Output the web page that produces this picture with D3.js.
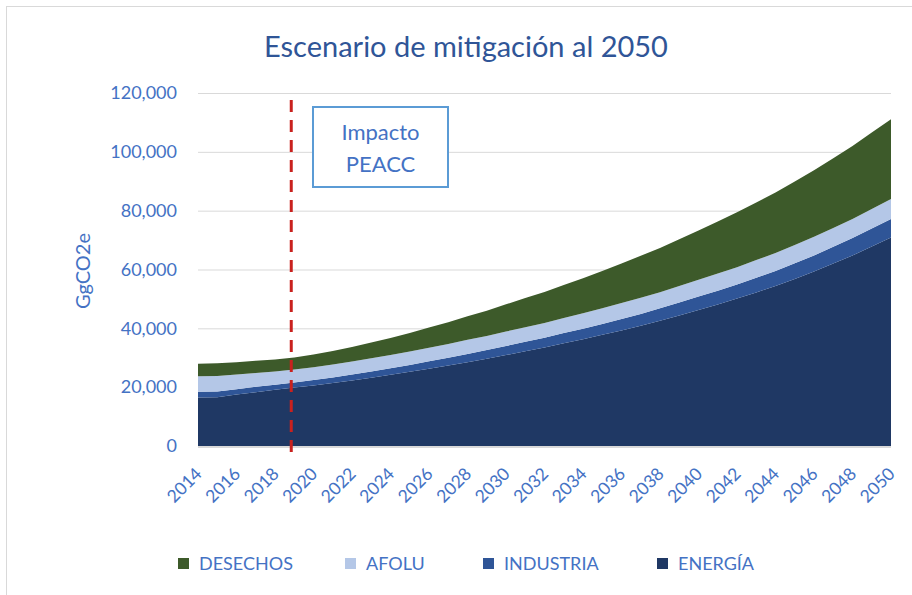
<!DOCTYPE html>
<html>
<head>
<meta charset="utf-8">
<script src="https://cdn.jsdelivr.net/npm/d3@7"></script>
<style>
	body { margin: 0; background: #fff; }
	svg { display: block; font-family: Lato, "Open Sans", sans-serif; }
</style>
</head>
<body>
<div id="chartDiv"></div>
<script>
// years on the x axis
var years = [2014, 2015, 2016, 2017, 2018, 2019, 2020, 2021, 2022, 2023, 2024, 2025,
	2026, 2027, 2028, 2029, 2030, 2031, 2032, 2033, 2034, 2035, 2036, 2037, 2038,
	2039, 2040, 2041, 2042, 2043, 2044, 2045, 2046, 2047, 2048, 2049, 2050];

// emissions by sector, GgCO2e
var energia = [16500, 16600, 17500, 18300, 19100, 19900, 20600, 21400, 22300, 23200,
	24200, 25200, 26300, 27400, 28500, 29700, 30900, 32200, 33500, 34900, 36300,
	37800, 39300, 40900, 42600, 44400, 46200, 48100, 50100, 52200, 54400, 56800,
	59300, 62000, 64800, 67800, 70900];
var industria = [1900, 1900, 1800, 1800, 1700, 1700, 1800, 1900, 2000, 2100, 2200,
	2300, 2500, 2600, 2800, 2900, 3100, 3200, 3300, 3500, 3600, 3700, 3900, 4000,
	4200, 4400, 4600, 4700, 4800, 5000, 5100, 5300, 5500, 5700, 5900, 6100, 6300];
var afolu = [5300, 5300, 5000, 4700, 4500, 4400, 4400, 4400, 4400, 4500, 4500, 4600,
	4600, 4700, 4800, 4800, 4900, 5000, 5000, 5100, 5200, 5300, 5400, 5500, 5500,
	5600, 5700, 5800, 5900, 6000, 6100, 6200, 6300, 6400, 6500, 6700, 6800];
var desechos = [4300, 4300, 4200, 4200, 4100, 4100, 4300, 4600, 4950, 5350, 5800,
	6300, 6850, 7400, 8000, 8600, 9250, 9900, 10550, 11250, 11950, 12700, 13450,
	14250, 15050, 15900, 16800, 17700, 18650, 19600, 20600, 21600, 22650, 23700,
	24800, 25950, 27100];

var yTicks = [0, 20000, 40000, 60000, 80000, 100000, 120000];
var xTickYears = years.filter(function(d) { return (d - 2014) % 2 == 0; });
var markerYear = 2019;

// stack order bottom to top, legend order is reversed
var series = [
	{key: "ENERGÍA", values: energia, color: "#1f3864"},
	{key: "INDUSTRIA", values: industria, color: "#2f5597"},
	{key: "AFOLU", values: afolu, color: "#b4c7e7"},
	{key: "DESECHOS", values: desechos, color: "#3d5a2a"}
];

function drawChart(elem) {
	var width = 912, height = 595;
	var margin = {top: 93, right: 21, bottom: 149, left: 198};
	var innerW = width - margin.left - margin.right,
	    innerH = height - margin.top - margin.bottom;

	var svg = d3.select(elem).append("svg")
		.attr("width", width)
		.attr("height", height);

	// chart frame
	svg.append("rect")
		.attr("x", 6.5).attr("y", 6.5)
		.attr("width", 920).attr("height", 600)
		.attr("fill", "none")
		.attr("stroke", "#d9d9d9");

	svg.append("text")
		.attr("x", 466)
		.attr("y", 57)
		.attr("text-anchor", "middle")
		.attr("font-size", 29)
		.attr("fill", "#2f5597")
		.text("Escenario de mitigación al 2050");

	var g = svg.append("g")
		.attr("transform", "translate(" + margin.left + "," + margin.top + ")");

	var x = d3.scalePoint().domain(years).range([0, innerW]);
	var y = d3.scaleLinear().domain([0, 120000]).range([innerH, 0]);

	// build rows for d3.stack
	var rows = years.map(function(yr, i) {
		var r = {year: yr};
		series.forEach(function(s) { r[s.key] = s.values[i]; });
		return r;
	});
	var stack = d3.stack().keys(series.map(function(s) { return s.key; }));
	var layers = stack(rows);

	// gridlines
	g.append("g")
		.attr("class", "grid")
		.call(d3.axisLeft(y).tickValues(yTicks).tickSize(-innerW).tickFormat(""))
		.call(function(a) {
			a.select(".domain").remove();
			a.selectAll("line").attr("stroke", "#d9d9d9");
		});

	var area = d3.area()
		.x(function(d) { return x(d.data.year); })
		.y0(function(d) { return y(d[0]); })
		.y1(function(d) { return y(d[1]); });

	g.selectAll(".layer")
		.data(layers)
		.enter().append("path")
		.attr("class", "layer")
		.attr("fill", function(d, i) { return series[i].color; })
		.attr("d", area);

	// baseline
	g.append("line")
		.attr("x1", 0).attr("x2", innerW)
		.attr("y1", innerH + 1).attr("y2", innerH + 1)
		.attr("stroke", "#d9d9d9")
		.attr("stroke-width", 2);

	// y axis labels
	var yAxis = g.append("g")
		.call(d3.axisLeft(y).tickValues(yTicks).tickSize(0).tickPadding(21)
			.tickFormat(d3.format(",")));
	yAxis.select(".domain").remove();
	yAxis.selectAll("text")
		.attr("font-family", "Lato, sans-serif")
		.attr("font-size", 18)
		.attr("fill", "#4472c4");

	svg.append("text")
		.attr("transform", "translate(90,271) rotate(-90)")
		.attr("text-anchor", "middle")
		.attr("font-size", 20)
		.attr("fill", "#4472c4")
		.text("GgCO2e");

	// x axis labels, rotated
	g.selectAll(".xlab")
		.data(xTickYears)
		.enter().append("text")
		.attr("class", "xlab")
		.attr("text-anchor", "end")
		.attr("font-size", 17.5)
		.attr("fill", "#4472c4")
		.attr("transform", function(d) {
			return "translate(" + (x(d) + 5) + "," + (innerH + 29) + ") rotate(-45)";
		})
		.text(function(d) { return d; });

	// dashed marker line near 2019
	var mx = x(markerYear) - 3;
	g.append("line")
		.attr("x1", mx).attr("x2", mx)
		.attr("y1", 7).attr("y2", innerH + 9)
		.attr("stroke", "#c9211e")
		.attr("stroke-width", 3)
		.attr("stroke-dasharray", "12,8");

	// annotation box
	svg.append("rect")
		.attr("x", 313).attr("y", 107)
		.attr("width", 135).attr("height", 80)
		.attr("fill", "#fff")
		.attr("stroke", "#5b9bd5")
		.attr("stroke-width", 2);
	svg.append("text")
		.attr("x", 380.5).attr("y", 140)
		.attr("text-anchor", "middle")
		.attr("font-size", 22)
		.attr("fill", "#4472c4")
		.text("Impacto");
	svg.append("text")
		.attr("x", 380.5).attr("y", 172)
		.attr("text-anchor", "middle")
		.attr("font-size", 22)
		.attr("fill", "#4472c4")
		.text("PEACC");

	// legend
	var legendX = [178, 345, 483, 657];
	var legendItems = series.slice().reverse();
	var leg = svg.selectAll(".legend")
		.data(legendItems)
		.enter().append("g")
		.attr("class", "legend")
		.attr("transform", function(d, i) { return "translate(" + legendX[i] + ",558)"; });
	leg.append("rect")
		.attr("width", 11).attr("height", 11)
		.attr("fill", function(d) { return d.color; });
	leg.append("text")
		.attr("x", 21)
		.attr("y", 12)
		.attr("font-size", 18)
		.attr("fill", "#4472c4")
		.text(function(d) { return d.key; });
}

drawChart(document.getElementById("chartDiv"));
</script>
</body>
</html>
